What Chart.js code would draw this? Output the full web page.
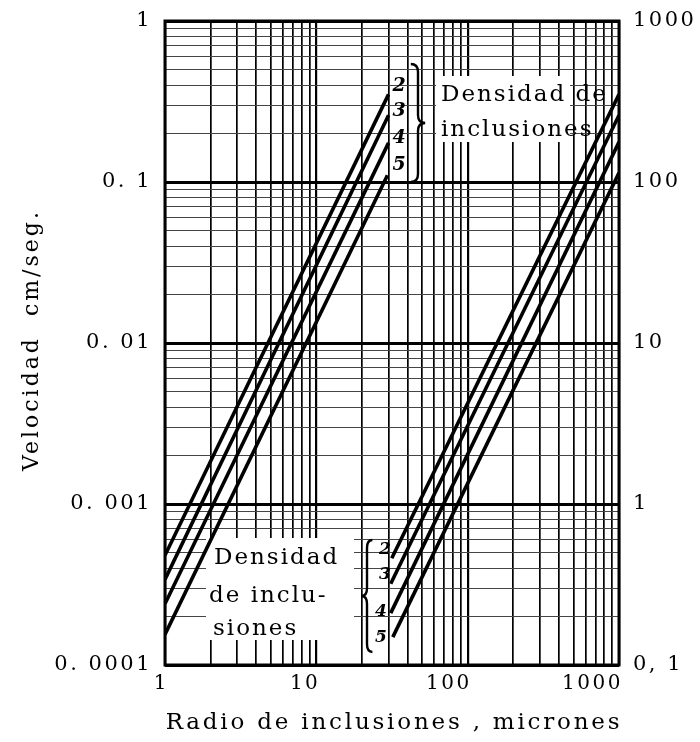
<!DOCTYPE html>
<html><head><meta charset="utf-8">
<script src="https://cdn.jsdelivr.net/npm/chart.js@4/dist/chart.umd.min.js"></script>
<style>html,body{margin:0;padding:0;background:#fff;}#wrap{width:700px;height:742px;position:relative}</style>
</head><body><div id="wrap"><canvas id="c"></canvas></div>
<script>
// ---- data ----
const densities = ['2', '3', '4', '5'];
// left group (left axis, cm/seg)
const leftRadiusStart = [1, 1, 1, 1];
const leftRadiusEnd = [30, 30, 30, 29.5];
const leftVelStart = [0.00048, 0.00034, 0.00024, 0.000155];
const leftVelEnd = [0.35, 0.26, 0.175, 0.11];
// right group (right axis)
const rightRadiusStart = [31.5, 31, 31, 32];
const rightRadiusEnd = [1000, 1000, 1000, 1000];
const rightVelStart = [0.46, 0.32, 0.21, 0.149];
const rightVelEnd = [350, 260, 177, 114];
// tick labels
const xDecades = [1, 10, 100, 1000];
const xTickLabels = ['1', '10', '100', '1000'];
const leftDecades = [1, 0.1, 0.01, 0.001, 0.0001];
const leftTickLabels = ['1', '0. 1', '0. 01', '0. 001', '0. 0001'];
const rightDecades = [1000, 100, 10, 1, 0.1];
const rightTickLabels = ['1000', '100', '10', '1', '0, 1'];
const xTitle = 'Radio de inclusiones , micrones';
const yTitle = 'Velocidad  cm/seg.';
const noteTop = ['Densidad de', 'inclusiones'];
const noteBottom = ['Densidad', 'de inclu-', 'siones'];

const FONT = "'DejaVu Serif', 'Liberation Serif', serif";

function logTicks(min, max) {
  const out = [];
  for (let e = Math.round(Math.log10(min)); e <= Math.round(Math.log10(max)); e++) {
    for (let k = 1; k <= 9; k++) {
      const v = parseFloat((k * Math.pow(10, e)).toPrecision(6));
      if (v >= min * 0.999 && v <= max * 1.001) out.push({ value: v });
    }
  }
  return out;
}
function isMajor(v) {
  const l = Math.log10(v);
  return Math.abs(l - Math.round(l)) < 1e-6;
}
function labelFor(v, decs, labels) {
  for (let i = 0; i < decs.length; i++) if (Math.abs(v / decs[i] - 1) < 1e-6) return labels[i];
  return '';
}

const datasets = [];
for (let i = 0; i < densities.length; i++) {
  datasets.push({
    label: 'L' + densities[i], yAxisID: 'y',
    data: [{ x: leftRadiusStart[i], y: leftVelStart[i] }, { x: leftRadiusEnd[i], y: leftVelEnd[i] }],
    showLine: true, borderColor: '#000', borderWidth: 3.6, pointRadius: 0, borderCapStyle: 'butt'
  });
  datasets.push({
    label: 'R' + densities[i], yAxisID: 'y2',
    data: [{ x: rightRadiusStart[i], y: rightVelStart[i] }, { x: rightRadiusEnd[i], y: rightVelEnd[i] }],
    showLine: true, borderColor: '#000', borderWidth: 3.6, pointRadius: 0, borderCapStyle: 'butt'
  });
}

function brace(ctx, x, y0, y1, w, dir) {
  const ym = (y0 + y1) / 2;
  const d = w * dir;
  ctx.beginPath();
  ctx.moveTo(x - d * 0.6, y0);
  ctx.quadraticCurveTo(x, y0, x, y0 + 8);
  ctx.lineTo(x, ym - 8);
  ctx.quadraticCurveTo(x, ym, x + d * 0.6, ym);
  ctx.quadraticCurveTo(x, ym, x, ym + 8);
  ctx.lineTo(x, y1 - 8);
  ctx.quadraticCurveTo(x, y1, x - d * 0.6, y1);
  ctx.stroke();
}

const decor = {
  id: 'decor',
  beforeDraw(chart) { chart.ctx.letterSpacing = '2.5px'; },
  beforeDatasetsDraw(chart) {
    const ctx = chart.ctx;
    ctx.save();
    ctx.fillStyle = '#fff';
    ctx.fillRect(436, 76, 134, 66);
    ctx.fillRect(206, 538, 148, 102);
    ctx.restore();
  },
  afterDraw(chart) {
    const ctx = chart.ctx;
    const a = chart.chartArea;
    ctx.save();
    ctx.fillStyle = '#000';
    ctx.strokeStyle = '#000';
    ctx.lineWidth = 3;
    ctx.strokeRect(a.left, a.top, a.right - a.left, a.bottom - a.top);
    // axis titles
    ctx.textAlign = 'center';
    ctx.textBaseline = 'alphabetic';
    ctx.letterSpacing = '2.8px';
    ctx.font = '23px ' + FONT;
    ctx.fillText(xTitle, (a.left + a.right) / 2 + 2, 729);
    ctx.letterSpacing = '3px';
    ctx.font = '22px ' + FONT;
    ctx.save();
    ctx.translate(38, 340);
    ctx.rotate(-Math.PI / 2);
    ctx.fillText(yTitle, 0, 0);
    ctx.restore();
    // notes
    ctx.letterSpacing = '2px';
    ctx.font = '23px ' + FONT;
    ctx.textAlign = 'left';
    ctx.fillText(noteTop[0], 441, 101);
    ctx.fillText(noteTop[1], 441, 136);
    ctx.fillText(noteBottom[0], 214, 564);
    ctx.fillText(noteBottom[1], 209, 602);
    ctx.fillText(noteBottom[2], 213, 635);
    // numbers
    ctx.letterSpacing = '0px';
    ctx.font = 'italic bold 19px ' + FONT;
    ctx.textAlign = 'center';
    ctx.textBaseline = 'middle';
    const upY = [86, 111, 138, 165];
    for (let i = 0; i < densities.length; i++) ctx.fillText(densities[i], 399, upY[i]);
    ctx.font = 'italic bold 17px ' + FONT;
    const loY = [550, 575, 612, 638];
    const loX = [385, 385, 381, 381];
    for (let i = 0; i < densities.length; i++) ctx.fillText(densities[i], loX[i], loY[i]);
    // braces
    ctx.lineWidth = 2.4;
    brace(ctx, 418, 64, 182, 12, 1);
    brace(ctx, 367, 540, 652, 9, -1);
    ctx.restore();
  }
};

function noPad(s) { s.paddingTop = 0; s.paddingBottom = 0; s.paddingLeft = 0; s.paddingRight = 0; }

new Chart(document.getElementById('c'), {
  type: 'scatter',
  data: { datasets },
  plugins: [decor],
  options: {
    responsive: true, maintainAspectRatio: false, animation: false,
    layout: { padding: { top: 21, left: 0, right: 0, bottom: 0 } },
    plugins: { legend: { display: false }, tooltip: { enabled: false } },
    scales: {
      x: {
        type: 'logarithmic', min: 1, max: 1000, position: 'bottom',
        afterBuildTicks: s => { s.ticks = logTicks(1, 1000); },
        afterFit: s => { s.height = 77; noPad(s); },
        ticks: {
          autoSkip: false, maxRotation: 0, padding: 7, color: '#000', align: 'end', labelOffset: 4,
          font: { family: FONT, size: 20 },
          callback: v => labelFor(v, xDecades, xTickLabels)
        },
        grid: {
          drawTicks: false, color: '#000',
          lineWidth: c => (c.tick && isMajor(c.tick.value)) ? 2.2 : 1.7
        },
        border: { display: false }
      },
      y: {
        type: 'logarithmic', min: 0.0001, max: 1, position: 'left',
        afterBuildTicks: s => { s.ticks = logTicks(0.0001, 1); },
        afterFit: s => { s.width = 165; noPad(s); },
        ticks: {
          autoSkip: false, padding: 13, color: '#000',
          font: { family: FONT, size: 21 },
          callback: v => labelFor(v, leftDecades, leftTickLabels)
        },
        grid: {
          drawTicks: false,
          color: c => (c.tick && isMajor(c.tick.value)) ? '#000' : '#444',
          lineWidth: c => (c.tick && isMajor(c.tick.value)) ? 3 : 1.1
        },
        border: { display: false }
      },
      y2: {
        type: 'logarithmic', min: 0.1, max: 1000, position: 'right',
        afterBuildTicks: s => { s.ticks = logTicks(0.1, 1000); },
        afterFit: s => { s.width = 81; noPad(s); },
        ticks: {
          autoSkip: false, padding: 14, color: '#000',
          font: { family: FONT, size: 21 },
          callback: v => labelFor(v, rightDecades, rightTickLabels)
        },
        grid: { drawOnChartArea: false, drawTicks: false },
        border: { display: false }
      }
    }
  }
});
</script>
</body></html>
